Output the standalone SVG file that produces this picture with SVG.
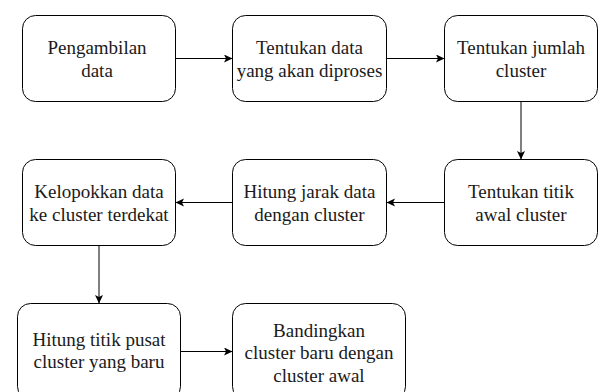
<svg xmlns="http://www.w3.org/2000/svg" width="599" height="392" viewBox="0 0 599 392">
<style>
.box{fill:#fff;stroke:#000;stroke-width:1}
.lbl{font-family:'Liberation Serif','Times New Roman',Times,'Nimbus Roman','Nimbus Roman No9 L',FreeSerif,'DejaVu Serif','Noto Serif',Georgia,serif;font-size:19px;fill:#1a1a1a;text-anchor:middle}
.edge{fill:none;stroke:#000;stroke-width:1}
</style>
<defs>
<marker id="arr" markerUnits="userSpaceOnUse" markerWidth="10" markerHeight="9" refX="8.5" refY="4" orient="auto" viewBox="0 0 10 9">
<path d="M0,0 L8.5,4 L0,8 L2,4 Z" fill="#000"/>
</marker>
</defs>
<rect width="599" height="392" fill="#fff"/>
<g id="connectors">
<path class="edge" d="M175.5 58.5 H232.5" marker-end="url(#arr)"/>
<path class="edge" d="M386.5 58.5 H444.5" marker-end="url(#arr)"/>
<path class="edge" d="M521 101.5 V159.5" marker-end="url(#arr)"/>
<path class="edge" d="M444.5 202.5 H386.5" marker-end="url(#arr)"/>
<path class="edge" d="M232.5 202.5 H175.5" marker-end="url(#arr)"/>
<path class="edge" d="M99 245.5 V303.5" marker-end="url(#arr)"/>
<path class="edge" d="M180.5 351.5 H232.5" marker-end="url(#arr)"/>
</g>
<g id="n1">
<rect class="box" x="22.5" y="15.5" width="153" height="86" rx="13"/>
<text class="lbl" x="97" y="54.3">Pengambilan</text>
<text class="lbl" x="97" y="76.7">data</text>
</g>
<g id="n2">
<rect class="box" x="232.5" y="15.5" width="154" height="86" rx="13"/>
<text class="lbl" x="309.5" y="54.3">Tentukan data</text>
<text class="lbl" x="309.5" y="76.7">yang akan diproses</text>
</g>
<g id="n3">
<rect class="box" x="444.5" y="15.5" width="153" height="86" rx="13"/>
<text class="lbl" x="521" y="54.3">Tentukan jumlah</text>
<text class="lbl" x="521" y="76.7">cluster</text>
</g>
<g id="n4">
<rect class="box" x="444.5" y="159.5" width="153" height="86" rx="13"/>
<text class="lbl" x="521" y="198.3">Tentukan titik</text>
<text class="lbl" x="521" y="220.7">awal cluster</text>
</g>
<g id="n5">
<rect class="box" x="232.5" y="159.5" width="154" height="86" rx="13"/>
<text class="lbl" x="309.5" y="198.3">Hitung jarak data</text>
<text class="lbl" x="309.5" y="220.7">dengan cluster</text>
</g>
<g id="n6">
<rect class="box" x="22.5" y="159.5" width="153" height="86" rx="13"/>
<text class="lbl" x="99" y="198.3">Kelopokkan data</text>
<text class="lbl" x="99" y="220.7">ke cluster terdekat</text>
</g>
<g id="n7">
<rect class="box" x="17.5" y="303.5" width="163" height="96" rx="13"/>
<text class="lbl" x="99" y="345.5">Hitung titik pusat</text>
<text class="lbl" x="99" y="368">cluster yang baru</text>
</g>
<g id="n8">
<rect class="box" x="232.5" y="303.5" width="173" height="96" rx="13"/>
<text class="lbl" x="319" y="336.7">Bandingkan</text>
<text class="lbl" x="319" y="359.2">cluster baru dengan</text>
<text class="lbl" x="319" y="381.7">cluster awal</text>
</g>
</svg>
